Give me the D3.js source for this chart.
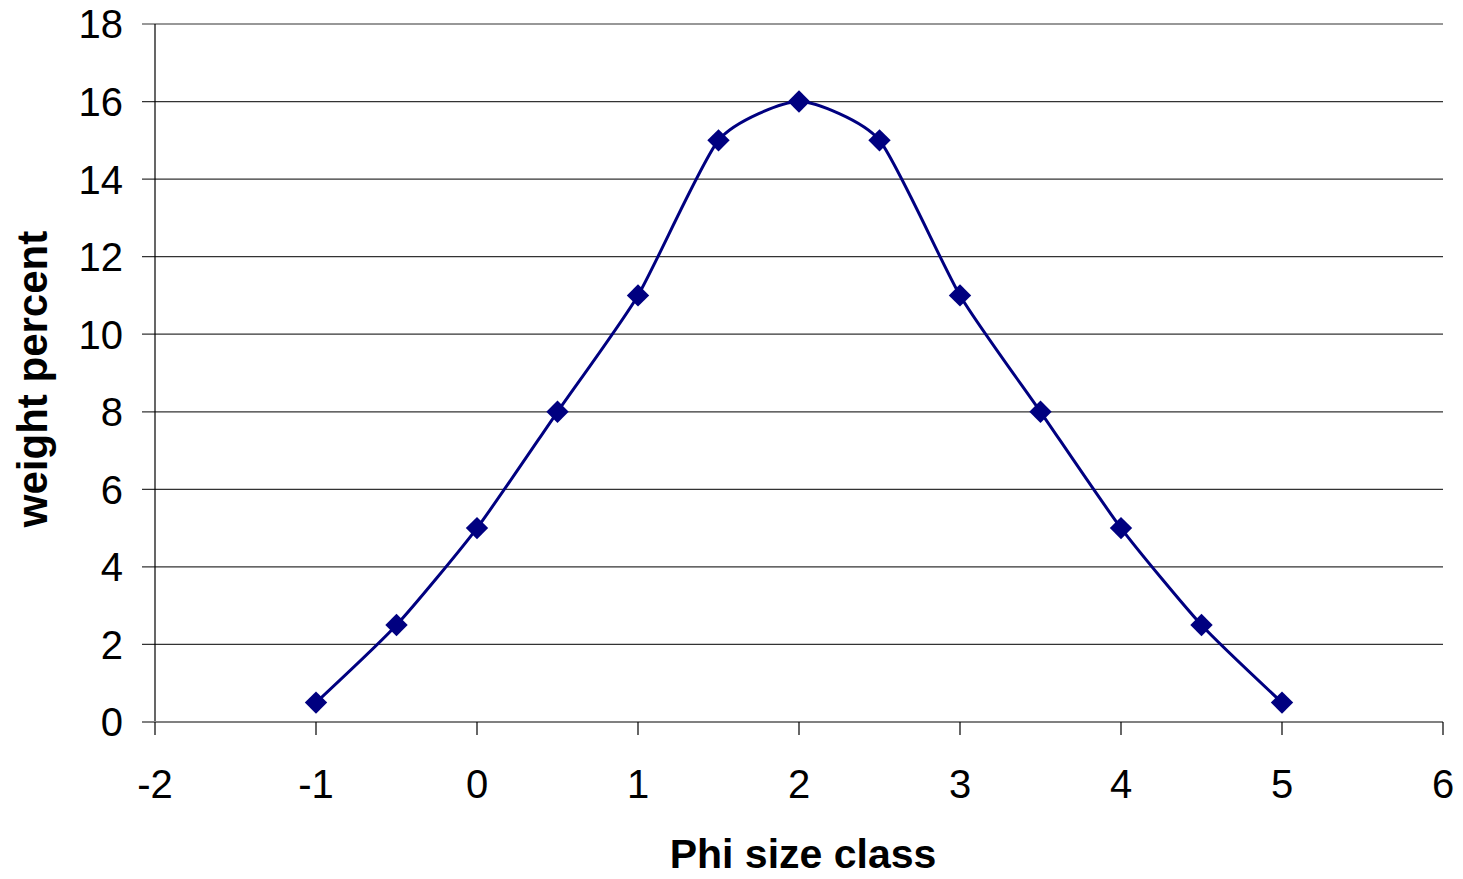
<!DOCTYPE html>
<html><head><meta charset="utf-8">
<script src="https://cdn.jsdelivr.net/npm/d3@7"></script>
<style>html,body{margin:0;padding:0;background:#fff;}svg{display:block;}</style>
</head><body>
<svg id="c" width="1463" height="879"></svg>
<script>
const phi = [-1, -0.5, 0, 0.5, 1, 1.5, 2, 2.5, 3, 3.5, 4, 4.5, 5];
const weight = [0.5, 2.5, 5, 8, 11, 15, 16, 15, 11, 8, 5, 2.5, 0.5];
const xTicks = [-2, -1, 0, 1, 2, 3, 4, 5, 6];
const yTicks = [0, 2, 4, 6, 8, 10, 12, 14, 16, 18];
const xTitle = "Phi size class";
const yTitle = "weight percent";

const svg = d3.select("#c");
const L = 155, R = 1443, T = 24, B = 722;
const x = d3.scaleLinear().domain([-2, 6]).range([L, R]);
const y = d3.scaleLinear().domain([0, 18]).range([B, T]);
const font = "'Liberation Sans', Arial, sans-serif";

// gridlines
svg.append("g").selectAll("line").data(yTicks.filter(d => d > 0)).join("line")
  .attr("x1", 142).attr("x2", R).attr("y1", d => y(d)).attr("y2", d => y(d))
  .attr("stroke", "#333").attr("stroke-width", 1.2);

// y axis line
svg.append("line").attr("x1", L).attr("x2", L).attr("y1", T).attr("y2", B)
  .attr("stroke", "#000").attr("stroke-width", 1.2);

// x axis
svg.append("line").attr("x1", 142).attr("x2", R).attr("y1", B).attr("y2", B)
  .attr("stroke", "#808080").attr("stroke-width", 2);
svg.append("g").selectAll("line").data(xTicks).join("line")
  .attr("x1", d => x(d)).attr("x2", d => x(d)).attr("y1", B).attr("y2", B + 13)
  .attr("stroke", "#000").attr("stroke-width", 1.2);

// tick labels
svg.append("g").selectAll("text").data(yTicks).join("text")
  .attr("x", 123).attr("y", d => y(d)).attr("dy", "0.36em")
  .attr("text-anchor", "end").attr("font-family", font).attr("font-size", 40)
  .text(d => d);
svg.append("g").selectAll("text").data(xTicks).join("text")
  .attr("x", d => x(d)).attr("y", 798)
  .attr("text-anchor", "middle").attr("font-family", font).attr("font-size", 40)
  .text(d => d);

// titles
svg.append("text").attr("x", 803).attr("y", 868).attr("text-anchor", "middle")
  .attr("font-family", font).attr("font-size", 41).attr("font-weight", "bold").text(xTitle);
svg.append("text").attr("transform", "translate(47,379) rotate(-90)").attr("text-anchor", "middle")
  .attr("font-family", font).attr("font-size", 42).attr("font-weight", "bold").text(yTitle);

const data = phi.map((p, i) => ({p, w: weight[i]}));
const line = d3.line().x(d => x(d.p)).y(d => y(d.w)).curve(d3.curveCardinal.tension(0.4));
svg.append("path").datum(data).attr("d", line).attr("fill", "none")
  .attr("stroke", "#000080").attr("stroke-width", 3);

svg.append("g").selectAll("path").data(data).join("path")
  .attr("d", d3.symbol(d3.symbolSquare, 250))
  .attr("transform", d => `translate(${x(d.p)},${y(d.w)}) rotate(45)`)
  .attr("fill", "#000080");
</script>
</body></html>
